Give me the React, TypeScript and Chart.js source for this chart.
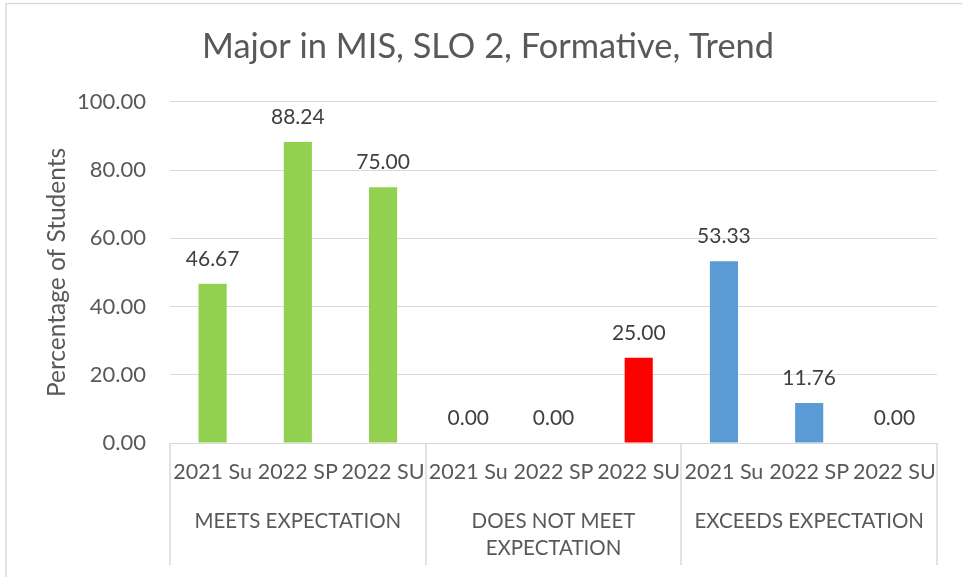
import React, { useEffect, useRef } from "react";
import { Chart, registerables } from "chart.js";

Chart.register(...registerables);

const periods = ["2021 Su", "2022 SP", "2022 SU", "2021 Su", "2022 SP", "2022 SU", "2021 Su", "2022 SP", "2022 SU"];
const groups: (string | string[])[] = ["MEETS EXPECTATION", ["DOES NOT MEET", "EXPECTATION"], "EXCEEDS EXPECTATION"];
const values = [46.67, 88.24, 75.0, 0.0, 0.0, 25.0, 53.33, 11.76, 0.0];
const barColors = ["#92D050", "#92D050", "#92D050", "#FF0000", "#FF0000", "#FF0000", "#5B9BD5", "#5B9BD5", "#5B9BD5"];
const yTicks = [0, 20, 40, 60, 80, 100];

const FONT = "Lato, 'Open Sans', sans-serif";
const AXIS_GREY = "#D9D9D9";
const TEXT_GREY = "#595959";

// white page with the frame's top and left edges
const framePlugin = {
  id: "frame",
  beforeDraw(chart: Chart) {
    const { ctx, width, height } = chart;
    ctx.save();
    ctx.fillStyle = "#FFFFFF";
    ctx.fillRect(0, 0, width, height);
    ctx.strokeStyle = AXIS_GREY;
    ctx.lineWidth = 1.5;
    ctx.beginPath();
    ctx.moveTo(6, height);
    ctx.lineTo(6, 3.5);
    ctx.lineTo(width, 3.5);
    ctx.stroke();
    ctx.restore();
  },
};

// value labels above each bar
const valueLabelPlugin = {
  id: "valueLabels",
  afterDatasetsDraw(chart: Chart) {
    const { ctx } = chart;
    const meta = chart.getDatasetMeta(0);
    ctx.save();
    ctx.font = `21px ${FONT}`;
    ctx.fillStyle = "#404040";
    ctx.textAlign = "center";
    ctx.textBaseline = "middle";
    meta.data.forEach((bar: any, i: number) => {
      ctx.fillText(values[i].toFixed(2), bar.x, bar.y - 25);
    });
    ctx.restore();
  },
};

// vertical dividers between the category groups on the axis
const groupDividerPlugin = {
  id: "groupDividers",
  afterDraw(chart: Chart) {
    const { ctx, chartArea } = chart;
    const x = chart.scales.x;
    const x2 = chart.scales.x2;
    const edges = [x.left];
    for (let g = 1; g < groups.length; g++) {
      const i = g * 3;
      edges.push((x.getPixelForValue(i - 1) + x.getPixelForValue(i)) / 2);
    }
    edges.push(x.right);
    ctx.save();
    ctx.strokeStyle = AXIS_GREY;
    ctx.lineWidth = 1.5;
    ctx.beginPath();
    edges.forEach((px) => {
      const xx = Math.round(px);
      ctx.moveTo(xx, chartArea.bottom);
      ctx.lineTo(xx, x2.bottom - 12);
    });
    ctx.stroke();
    ctx.restore();
  },
};

export default function App() {
  const canvasRef = useRef<HTMLCanvasElement | null>(null);

  useEffect(() => {
    if (!canvasRef.current) return;
    const chart = new Chart(canvasRef.current, {
      type: "bar",
      data: {
        labels: periods,
        datasets: [
          {
            data: values,
            backgroundColor: barColors,
            borderWidth: 0,
            categoryPercentage: 1,
            barPercentage: 0.33,
            xAxisID: "x",
          },
        ],
      },
      options: {
        responsive: false,
        animation: false,
        layout: { padding: { left: 39, right: 25, top: 0, bottom: 0 } },
        plugins: {
          legend: { display: false },
          tooltip: { enabled: false },
          title: {
            display: true,
            text: "Major in MIS, SLO 2, Formative, Trend",
            color: TEXT_GREY,
            font: { family: FONT, size: 34.4, weight: "normal" },
            padding: { top: 26.5, bottom: 34.2 },
          },
        },
        scales: {
          y: {
            min: 0,
            max: 100,
            afterFit(scale: any) {
              scale.width = 131;
            },
            afterBuildTicks(scale: any) {
              scale.ticks = yTicks.map((v) => ({ value: v }));
            },
            ticks: {
              padding: 24,
              color: TEXT_GREY,
              font: { family: FONT, size: 22 },
              callback: (v: any) => Number(v).toFixed(2),
            },
            grid: { color: AXIS_GREY, lineWidth: 1, drawTicks: false },
            border: { display: false },
            title: {
              display: true,
              text: "Percentage of Students",
              color: TEXT_GREY,
              font: { family: FONT, size: 24.5 },
              padding: { top: 3.3, bottom: 0 },
            },
          },
          x: {
            type: "category",
            position: "bottom",
            afterFit(scale: any) {
              scale.height = 42;
            },
            grid: { display: false, drawTicks: false },
            border: { display: true, color: AXIS_GREY, width: 1 },
            ticks: {
              padding: 16,
              autoSkip: false,
              maxRotation: 0,
              minRotation: 0,
              color: TEXT_GREY,
              font: { family: FONT, size: 21.5 },
            },
          },
          x2: {
            type: "category",
            position: "bottom",
            labels: groups as any,
            offset: true,
            afterFit(scale: any) {
              scale.height = 92;
            },
            grid: { display: false, drawTicks: false },
            border: { display: false },
            ticks: {
              padding: 22,
              autoSkip: false,
              maxRotation: 0,
              minRotation: 0,
              color: TEXT_GREY,
              font: { family: FONT, size: 20.5, lineHeight: 1.36 },
            },
          },
        },
      } as any,
      plugins: [framePlugin, valueLabelPlugin, groupDividerPlugin],
    });
    return () => chart.destroy();
  }, []);

  return (
    <div style={{ position: "fixed", left: 0, top: 0, width: 962, height: 577, overflow: "hidden" }}>
      <canvas ref={canvasRef} width={962} height={577} style={{ width: 962, height: 577 }} />
    </div>
  );
}
